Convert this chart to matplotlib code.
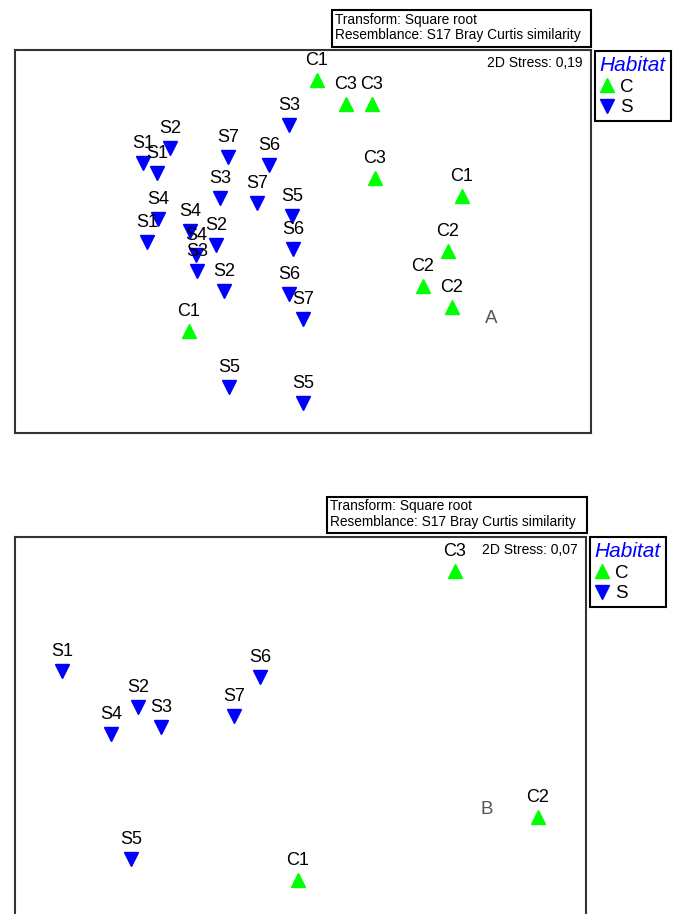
import matplotlib.pyplot as plt
from matplotlib.lines import Line2D
from matplotlib.patches import Rectangle

plt.rcParams['font.family'] = ['Liberation Sans', 'DejaVu Sans']

GREEN = '#00ff00'
BLUE = '#0000ff'

# nMDS of all samples (square root, Bray Curtis)
a_labels = ['C1', 'C3', 'C3', 'S3', 'S2', 'S1', 'S1', 'S7', 'S6', 'C3',
            'C1', 'S3', 'S7', 'S5', 'S4', 'S1', 'S4', 'S2', 'S4', 'S3',
            'S6', 'C2', 'S2', 'S6', 'C2', 'C2', 'S7', 'C1', 'S5', 'S5']
a_x = [0.07, 0.215, 0.345, -0.07, -0.665, -0.80, -0.73, -0.375, -0.17, 0.36,
       0.795, -0.415, -0.23, -0.055, -0.725, -0.78, -0.565, -0.435, -0.535, -0.53,
       -0.05, 0.725, -0.395, -0.07, 0.60, 0.745, 0.0, -0.57, -0.37, 0.0]
a_y = [0.81, 0.69, 0.69, 0.585, 0.47, 0.395, 0.345, 0.425, 0.385, 0.32,
       0.23, 0.22, 0.195, 0.13, 0.115, 0.0, 0.055, -0.015, -0.065, -0.145,
       -0.035, -0.045, -0.245, -0.26, -0.22, -0.325, -0.385, -0.445, -0.725, -0.805]

# nMDS of site averages
b_labels = ['C3', 'S1', 'S6', 'S2', 'S3', 'S4', 'S7', 'C2', 'S5', 'C1']
b_x = [0.76, -1.205, -0.215, -0.825, -0.71, -0.96, -0.345, 1.175, -0.86, -0.025]
b_y = [0.77, 0.27, 0.24, 0.09, -0.01, -0.045, 0.045, -0.46, -0.67, -0.775]

W, H = 678, 914
fig = plt.figure(figsize=(W / 100, H / 100), dpi=100)


def fx(px):
    return px / W


def fy(py):
    return 1 - py / H


def draw_panel(box, labels, xs, ys, xlim, ylim, stress, letter, tbox, tbase, lpos):
    x0, y0, x1, y1 = box
    ax = fig.add_axes([fx(x0), fy(y1), (x1 - x0) / W, (y1 - y0) / H])
    for lab, x, y in zip(labels, xs, ys):
        if lab[0] == 'C':
            ax.plot(x, y, marker='^', color=GREEN, ms=9.5, ls='none')
        else:
            ax.plot(x, y, marker='v', color=BLUE, ms=9.5, ls='none')
        ax.annotate(lab, (x, y), xytext=(0, 10.5), textcoords='offset points',
                    ha='center', va='baseline', fontsize=13)
    ax.set_xlim(*xlim)
    ax.set_ylim(*ylim)
    ax.set_xticks([])
    ax.set_yticks([])
    for sp in ax.spines.values():
        sp.set_color('#333333')
        sp.set_linewidth(1.5)
    ax.annotate('2D Stress: ' + stress, (1, 1), xycoords='axes fraction',
                xytext=(-6, -4), textcoords='offset points',
                ha='right', va='top', fontsize=10)
    ax.text(0.826, 0.298, letter, transform=ax.transAxes, ha='center',
            va='center', fontsize=13.5, color='#555555')

    # transform / resemblance box above the plot
    bx0, by0, bx1, by1 = tbox
    fig.add_artist(Rectangle((fx(bx0), fy(by1)), (bx1 - bx0) / W, (by1 - by0) / H,
                             transform=fig.transFigure, fill=False,
                             edgecolor='black', linewidth=1.5))
    fig.text(fx(bx0 + 3), fy(tbase[0]), 'Transform: Square root',
             fontsize=9.9, va='baseline')
    fig.text(fx(bx0 + 3), fy(tbase[1]), 'Resemblance: S17 Bray Curtis similarity',
             fontsize=9.9, va='baseline')

    handles = [Line2D([], [], marker='^', color=GREEN, ms=10, ls='none'),
               Line2D([], [], marker='v', color=BLUE, ms=10, ls='none')]
    leg = fig.legend(handles, ['C', 'S'], title='Habitat', loc='upper left',
                     bbox_to_anchor=(fx(lpos[0]), fy(lpos[1])),
                     fancybox=False, edgecolor='black', framealpha=1,
                     borderpad=0.25, handlelength=0.8, handletextpad=0.3,
                     labelspacing=0.2, borderaxespad=0, fontsize=13.5,
                     title_fontproperties={'size': 15, 'style': 'italic'},
                     alignment='left')
    leg.get_title().set_color(BLUE)
    leg.get_frame().set_linewidth(1.5)
    return ax


draw_panel((15, 50, 591, 433), a_labels, a_x, a_y, (-1.44, 1.44), (-0.955, 0.96),
           '0,19', 'A', (332, 10, 591, 47), (24, 39), (595, 51))
draw_panel((15, 537, 586, 925), b_labels, b_x, b_y, (-1.44, 1.415), (-1.0, 0.94),
           '0,07', 'B', (327, 497, 587, 533), (510, 526), (590, 537))

fig.savefig('out.png', dpi=100)
